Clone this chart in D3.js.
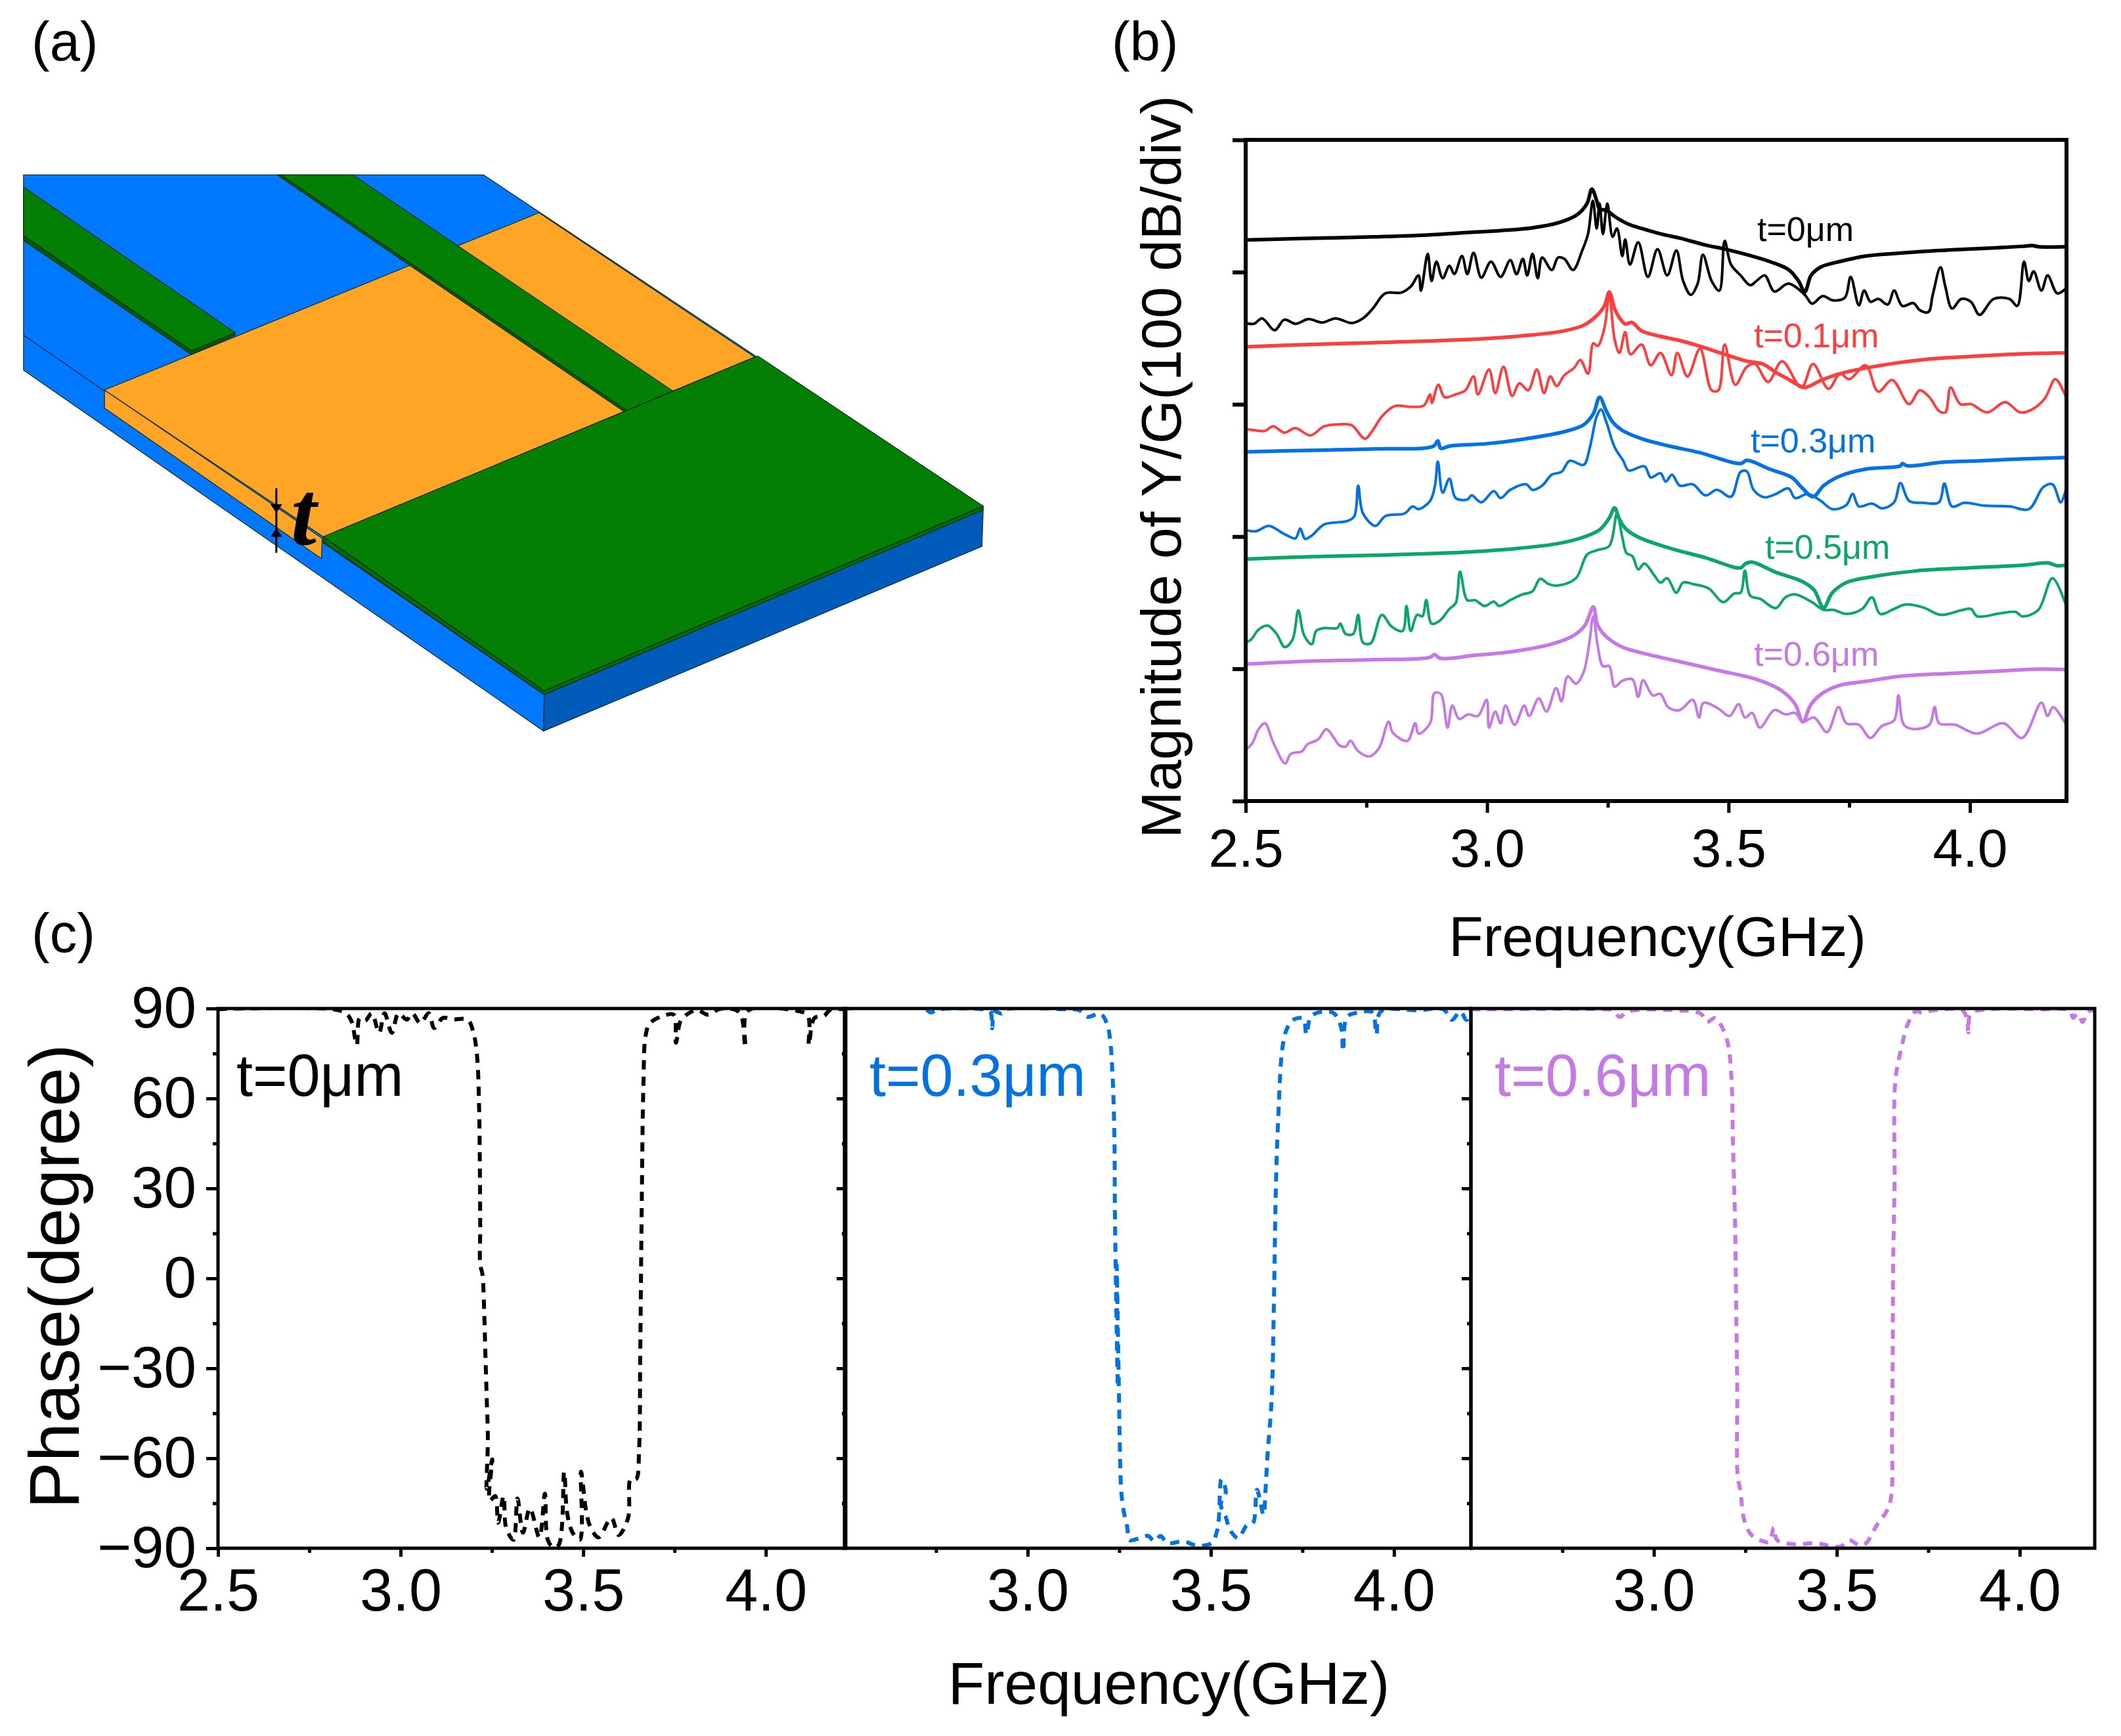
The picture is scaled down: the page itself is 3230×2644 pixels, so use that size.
<!DOCTYPE html>
<html>

<head>
    <meta charset="utf-8">
    <style>
        body {
            margin: 0;
            background: #fff;
        }

        svg {
            display: block;
        }

        text {
            font-family: 'Liberation Sans', Arial, sans-serif;
            fill: #000;
        }
    </style>
</head>

<body>
    <svg width="3230" height="2644"></svg>
</body>

<script src="https://d3js.org/d3.v7.min.js"></script>

<script>
    // --- panel b: [GHz, dB] ---
    const t0Upper = [[2.5,424.3],[2.63,425.5],[2.763,426.6],[2.875,428],[2.962,430],[3.028,431.4],[3.094,433.5],[3.147,437.2],[3.187,443.5],[3.207,451.9],[3.217,462.8],[3.227,454],[3.233,447.7],[3.247,446.7],[3.267,441.4],[3.293,436.2],[3.32,433],[3.359,428.9],[3.399,425.7],[3.452,420.5],[3.492,417.4],[3.538,413.2],[3.585,408],[3.625,401.7],[3.645,393.3],[3.658,385],[3.671,397.5],[3.691,403.8],[3.731,408],[3.784,412.1],[3.85,414.2],[3.936,416.3],[4.023,417.8],[4.109,419.5],[4.129,420.1],[4.142,419.2],[4.2,419.2]];
    const t0Lower = [[2.5,361.5],[2.517,360.9],[2.534,365],[2.56,356],[2.58,364],[2.603,360.9],[2.63,364.4],[2.659,361.9],[2.686,365],[2.72,361.5],[2.743,365],[2.763,372.3],[2.789,383.9],[2.822,384.5],[2.842,389.1],[2.858,397.5],[2.863,385.9],[2.877,413.8],[2.885,393.3],[2.895,407.9],[2.908,395.4],[2.922,404.8],[2.932,398.5],[2.948,412.1],[2.959,398.5],[2.972,414.6],[2.988,395.8],[3.008,407.9],[3.028,396.4],[3.048,409],[3.061,398.5],[3.074,410],[3.083,397.5],[3.094,413.8],[3.105,395.4],[3.114,411],[3.134,401.6],[3.147,411],[3.16,410],[3.178,401.6],[3.197,416.3],[3.209,428.8],[3.219,453.9],[3.227,433],[3.233,451.8],[3.24,428.8],[3.249,451.8],[3.26,426.7],[3.269,433],[3.28,412.1],[3.286,424.7],[3.296,405.8],[3.313,422.6],[3.333,396.4],[3.353,417.3],[3.373,397.5],[3.392,416.3],[3.406,393.3],[3.422,382.8],[3.436,391.2],[3.447,413.1],[3.465,393.3],[3.481,386],[3.492,423.6],[3.505,405.8],[3.525,397.5],[3.545,390.1],[3.558,393.3],[3.575,397.5],[3.595,385.3],[3.624,391.2],[3.658,382.8],[3.673,376.1],[3.695,381.8],[3.717,378.6],[3.741,380.7],[3.753,396.4],[3.77,374.9],[3.781,386],[3.794,377.6],[3.81,379.7],[3.83,375.5],[3.843,386],[3.86,374.4],[3.883,376.5],[3.896,371.3],[3.914,369.8],[3.923,382.8],[3.939,403.7],[3.949,389.1],[3.963,372.4],[3.982,379.7],[4.002,377.6],[4.02,367.7],[4.049,379.7],[4.082,379.7],[4.098,374.4],[4.112,407.9],[4.122,393.3],[4.132,400.6],[4.148,386],[4.161,397.5],[4.181,383.9],[4.2,388]];

    const t01Upper = [[2.5,343.5],[2.63,345.2],[2.763,346.6],[2.895,348.1],[3.001,349.8],[3.094,352.5],[3.16,355.6],[3.2,359.8],[3.227,367.1],[3.243,374.4],[3.253,384.9],[3.264,372.4],[3.273,366.1],[3.286,360.8],[3.3,361.9],[3.32,355.6],[3.359,351.4],[3.399,348.3],[3.439,344.1],[3.492,337.8],[3.538,332.6],[3.571,330.5],[3.598,324.2],[3.624,319],[3.638,315.9],[3.658,312.7],[3.691,318],[3.731,323.2],[3.784,327.4],[3.843,331],[3.916,334.3],[4.009,336.4],[4.115,338.3],[4.2,338.9]];
    const t01Lower = [[2.5,281.4],[2.521,280.3],[2.54,279.9],[2.557,283.4],[2.58,278.6],[2.603,282],[2.634,276.5],[2.663,283.4],[2.696,284.9],[2.72,284.1],[2.747,274],[2.763,280.3],[2.782,290.8],[2.809,298.7],[2.842,298.1],[2.869,299.1],[2.882,307.5],[2.886,301.2],[2.899,314.8],[2.912,305.4],[2.935,307.5],[2.955,310.6],[2.972,321.1],[2.981,307.5],[3.004,326.3],[3.017,308.5],[3.034,328.4],[3.052,306.4],[3.067,315.9],[3.085,310.6],[3.103,326.3],[3.118,308.5],[3.131,321.1],[3.144,313.8],[3.16,322.1],[3.18,327.4],[3.193,333.6],[3.209,323.2],[3.22,346.2],[3.229,344.1],[3.243,357.7],[3.253,382.8],[3.264,349.3],[3.274,338.9],[3.286,354.6],[3.297,337.8],[3.32,345.2],[3.339,329.5],[3.359,338.9],[3.382,322.1],[3.394,338.9],[3.415,321.1],[3.441,342],[3.465,310.6],[3.479,310.6],[3.492,345.2],[3.514,314.8],[3.538,328.4],[3.555,330.5],[3.582,316.9],[3.611,332.6],[3.651,312.7],[3.675,330.5],[3.707,311.7],[3.731,323.2],[3.75,319],[3.784,329.5],[3.81,309.6],[3.839,318.4],[3.874,300.2],[3.896,310.6],[3.916,305.4],[3.936,295],[3.949,293.9],[3.96,312.7],[3.98,300.2],[4.002,300.2],[4.036,293.9],[4.073,301.6],[4.104,293.9],[4.128,296],[4.155,304.4],[4.177,319],[4.2,304.4]];

    const t03Upper = [[2.5,264],[2.63,265.2],[2.763,266.3],[2.889,268.4],[2.898,272.4],[2.904,266.7],[2.922,268.4],[3.001,270.3],[3.081,274],[3.16,279.3],[3.2,284.5],[3.22,292.9],[3.233,305.4],[3.247,294.9],[3.26,286.6],[3.28,280.3],[3.32,274],[3.373,268.8],[3.439,263.6],[3.525,255.2],[3.538,257.7],[3.585,251],[3.631,244.7],[3.651,237.4],[3.675,230.1],[3.697,238.5],[3.731,245.8],[3.784,251],[3.856,253.5],[3.86,255.2],[3.87,253.5],[3.943,256.2],[4.022,257.3],[4.115,258.8],[4.2,259.8]];
    const t03Lower = [[2.5,205],[2.521,204],[2.548,208.1],[2.58,201.9],[2.603,198.7],[2.613,206],[2.623,198.3],[2.637,200.8],[2.663,209.2],[2.71,211.7],[2.725,215.4],[2.733,238.5],[2.743,217.5],[2.769,208.1],[2.789,215.4],[2.829,217.5],[2.846,222.8],[2.858,220.7],[2.882,227],[2.892,238.5],[2.898,256.7],[2.908,233.2],[2.922,243.7],[2.935,229.1],[2.959,228],[2.968,231.1],[2.988,225.9],[3.014,234.3],[3.028,229.1],[3.048,235.3],[3.081,239.5],[3.094,235.3],[3.114,238.5],[3.134,246.8],[3.154,248.9],[3.171,257.3],[3.2,254.2],[3.213,267.7],[3.227,290.8],[3.236,296],[3.247,286.6],[3.264,267.7],[3.282,257.3],[3.293,250],[3.326,253.1],[3.339,244.7],[3.359,247.9],[3.37,241.6],[3.383,246.8],[3.399,238.5],[3.426,239.5],[3.452,231.1],[3.476,235.3],[3.505,230.1],[3.525,248.9],[3.538,249.3],[3.552,235.3],[3.574,229.7],[3.598,232.2],[3.624,236.4],[3.638,229.1],[3.664,232.2],[3.691,227],[3.715,220.7],[3.744,223.8],[3.757,232.2],[3.77,222.8],[3.797,224.9],[3.819,221.3],[3.843,225.9],[3.856,240.5],[3.874,227],[3.903,225.5],[3.936,225.9],[3.947,240.1],[3.963,222.8],[3.989,225.5],[4.029,223.4],[4.082,222.8],[4.122,220.7],[4.152,237.4],[4.171,239.5],[4.188,225.9],[4.2,237.4]];

    const t05Upper = [[2.5,183],[2.63,184.7],[2.763,185.8],[2.948,188],[3.054,190.7],[3.147,194.7],[3.2,199.6],[3.233,205.1],[3.253,214],[3.264,221.7],[3.273,214],[3.286,206.3],[3.313,199.6],[3.373,191.8],[3.452,184],[3.525,176.3],[3.534,179.2],[3.548,180.7],[3.598,173],[3.651,166.3],[3.677,159.7],[3.697,146.4],[3.715,157.5],[3.744,165.2],[3.797,169.6],[3.89,174.1],[3.996,176.3],[4.115,178.5],[4.161,180.1],[4.181,177.9],[4.2,178.5]];
    const t05Lower = [[2.5,119.8],[2.511,122],[2.527,129.7],[2.546,132.6],[2.564,126.4],[2.581,116.4],[2.597,122],[2.609,144.2],[2.621,125.3],[2.637,118.6],[2.646,128.6],[2.663,130.8],[2.69,130.8],[2.696,134.2],[2.707,126.4],[2.723,126.4],[2.733,140.8],[2.743,119.8],[2.759,119.3],[2.782,140.8],[2.802,132],[2.825,128.6],[2.833,147.5],[2.842,128.6],[2.855,140.8],[2.866,139.7],[2.874,151.9],[2.885,134.2],[2.902,136.4],[2.922,145.3],[2.935,149.7],[2.944,173.4],[2.959,151.9],[2.975,151.9],[2.995,147.5],[3.014,150.8],[3.025,147.5],[3.048,151.9],[3.074,156.3],[3.094,158.6],[3.11,168.1],[3.127,164.1],[3.147,163],[3.184,168.5],[3.207,186.3],[3.227,189.6],[3.253,192.9],[3.269,217.3],[3.28,199.6],[3.289,187.4],[3.301,185.2],[3.313,175.2],[3.326,179.6],[3.346,170.8],[3.359,165.2],[3.373,168.5],[3.392,157.5],[3.406,165.2],[3.426,164.1],[3.459,160.8],[3.489,150.4],[3.512,157],[3.525,157.5],[3.534,174.1],[3.545,155.2],[3.565,153],[3.598,145.9],[3.618,154.1],[3.638,156.3],[3.671,150.8],[3.697,144.6],[3.717,144.6],[3.744,141.5],[3.777,145.3],[3.797,154.1],[3.814,141.5],[3.843,145.3],[3.866,148.6],[3.903,146.4],[3.94,140.8],[3.982,144.2],[4.002,145.3],[4.015,139.7],[4.062,141.9],[4.095,143],[4.108,139.7],[4.141,144.2],[4.171,168.5],[4.2,146.8]];

    const t06Upper = [[2.5,103.6],[2.63,105.8],[2.763,106.9],[2.882,108.7],[2.891,110.9],[2.902,108],[2.975,110.2],[3.054,113.1],[3.134,118.7],[3.18,125.3],[3.203,133],[3.22,146.8],[3.229,133],[3.247,124.2],[3.28,116.4],[3.333,110.9],[3.399,105.4],[3.479,98.7],[3.558,92],[3.611,83.2],[3.638,73.2],[3.654,59.9],[3.671,73.2],[3.697,82.1],[3.731,87.6],[3.784,90.5],[3.856,94.3],[3.956,96.5],[4.062,98.3],[4.141,99.8],[4.2,99.4]];
    const t06Lower = [[2.5,38.8],[2.513,43.3],[2.527,54.4],[2.54,58.8],[2.557,44.4],[2.582,28.4],[2.593,35.5],[2.617,37.7],[2.627,42.6],[2.65,46.6],[2.667,54.4],[2.683,47.7],[2.694,42.2],[2.707,41.1],[2.717,45.5],[2.733,37.7],[2.756,33.7],[2.776,39.9],[2.796,59.9],[2.805,51.5],[2.835,45.5],[2.851,58.8],[2.858,51],[2.882,58.8],[2.891,81.6],[2.904,81],[2.918,55.5],[2.928,72.1],[2.942,62.1],[2.961,65.5],[2.981,64.3],[2.999,76.5],[3.004,55.5],[3.017,67.7],[3.028,58.8],[3.038,72.1],[3.057,57.7],[3.077,72.1],[3.087,64.3],[3.107,77.6],[3.123,67.7],[3.143,85.4],[3.154,75.4],[3.167,94.3],[3.184,88.7],[3.2,97.6],[3.211,117.5],[3.22,139.7],[3.229,117.5],[3.24,102],[3.253,102],[3.264,86.5],[3.28,90.9],[3.301,92],[3.313,78.8],[3.323,91.4],[3.343,79.9],[3.359,81],[3.375,71],[3.399,68.8],[3.426,76.5],[3.439,63.2],[3.448,74.3],[3.479,69.9],[3.502,64.3],[3.521,73.2],[3.534,63.2],[3.549,66.6],[3.565,55.5],[3.595,68.8],[3.618,65.5],[3.638,66.6],[3.654,59.9],[3.677,63.2],[3.704,52.1],[3.728,71],[3.744,58.8],[3.77,57.7],[3.794,47.7],[3.817,56.6],[3.843,61],[3.852,79.9],[3.863,57.7],[3.883,54.4],[3.916,57.7],[3.927,71],[3.936,58.8],[3.969,57.7],[4.015,51],[4.069,58.8],[4.108,47.7],[4.148,74.3],[4.161,64.3],[4.172,71],[4.2,57.2]];

    // --- panel c: [GHz, degree] ---
    const phaseT0 = [[2.5,89.8],[2.812,89.8],[2.85,88.4],[2.865,85.9],[2.88,77.8],[2.888,86.8],[2.903,85.9],[2.921,88.4],[2.941,81.9],[2.956,88.4],[2.976,81.9],[2.994,88.4],[3.017,86.3],[3.032,88.4],[3.054,85.1],[3.077,88.4],[3.092,83.5],[3.115,86.8],[3.145,86.4],[3.183,86.3],[3.198,82.7],[3.209,74.6],[3.215,56.7],[3.217,37.2],[3.218,16],[3.218,4.6],[3.224,1.4],[3.229,-11.6],[3.232,-24.6],[3.236,-40.9],[3.239,-53.9],[3.236,-70.2],[3.251,-60.4],[3.244,-74.2],[3.259,-72.6],[3.267,-81.5],[3.282,-72.6],[3.289,-83.2],[3.309,-87.2],[3.32,-73.4],[3.335,-84.8],[3.354,-76.7],[3.38,-86.4],[3.395,-71.8],[3.403,-87.2],[3.418,-89.7],[3.433,-88.9],[3.448,-64.5],[3.456,-78.3],[3.471,-84.8],[3.491,-87.2],[3.494,-64.5],[3.509,-78.3],[3.521,-83.2],[3.542,-86.4],[3.577,-79.9],[3.597,-85.6],[3.623,-79.9],[3.63,-66.9],[3.645,-66.9],[3.653,-57.1],[3.656,-27.9],[3.66,21],[3.665,64.8],[3.671,81],[3.683,85.1],[3.721,87.6],[3.748,87.9],[3.754,78.6],[3.767,85.9],[3.789,88.4],[3.812,89.5],[3.842,87.9],[3.873,89.8],[3.918,89.5],[3.933,87.6],[3.944,77],[3.951,89.2],[4.085,89.2],[4.115,87.6],[4.118,77.8],[4.133,86.8],[4.16,87.6],[4.176,89.5],[4.219,89.8]];
    const phaseT03 = [[2.501,90],[2.718,90],[2.735,88.7],[2.758,89.7],[2.878,89.7],[2.898,89],[2.903,83.4],[2.91,89],[2.929,88.3],[2.941,89.7],[3.106,89.7],[3.141,89.4],[3.163,87.2],[3.198,88.3],[3.217,84.8],[3.226,78.5],[3.232,67.3],[3.237,46.3],[3.238,25.4],[3.24,5.8],[3.243,-16.6],[3.246,-36.2],[3.243,4.4],[3.249,-36.2],[3.251,-51.6],[3.255,-69.8],[3.261,-76.8],[3.272,-83.1],[3.278,-87.3],[3.306,-86.6],[3.329,-85.9],[3.346,-87.7],[3.363,-85.9],[3.381,-88.3],[3.426,-87.7],[3.461,-89.1],[3.501,-88.3],[3.518,-83.8],[3.529,-67],[3.541,-71.2],[3.527,-75.4],[3.541,-79.6],[3.552,-83.8],[3.575,-86.6],[3.598,-82.4],[3.615,-81.7],[3.626,-70.5],[3.644,-78.9],[3.649,-71.2],[3.655,-58.6],[3.666,-40.4],[3.672,-9.6],[3.678,32.3],[3.684,53.3],[3.695,76.4],[3.706,82.7],[3.724,86.2],[3.752,86.6],[3.761,81.3],[3.775,87.6],[3.832,88.7],[3.855,84.1],[3.861,75.7],[3.872,87.2],[3.906,88.7],[3.941,88.7],[3.952,81.3],[3.964,89],[4.066,89.4],[4.135,89.7],[4.158,86.2],[4.181,89],[4.198,86.2],[4.21,89]];
    const phaseT06 = [[2.5,89.7],[2.871,89.7],[2.888,89.4],[2.907,87.2],[2.928,89],[3.065,89.4],[3.128,88.3],[3.145,85.5],[3.168,86.9],[3.185,84.1],[3.202,78.5],[3.212,67.3],[3.216,46.3],[3.222,18.4],[3.225,-9.6],[3.228,-37.6],[3.229,-65.6],[3.237,-71.2],[3.245,-79.6],[3.26,-84.5],[3.277,-86.6],[3.3,-87.7],[3.315,-88],[3.328,-83.1],[3.337,-87.3],[3.386,-88.7],[3.443,-88.3],[3.477,-89.1],[3.511,-89.4],[3.534,-87.3],[3.563,-89.1],[3.58,-88.3],[3.609,-82.4],[3.637,-77.5],[3.649,-72.6],[3.651,-51.6],[3.653,-23.6],[3.654,4.4],[3.658,32.3],[3.66,65.9],[3.677,77.1],[3.694,84.8],[3.715,89],[3.734,88.6],[3.763,89.4],[3.843,89.4],[3.855,86.9],[3.86,82],[3.866,88.3],[3.912,89.7],[4.06,89.7],[4.135,89.4],[4.146,86.9],[4.158,88.3],[4.172,85.5],[4.186,89],[4.205,89.4]];

    // tick values and labels
    const freqMajor = [2.5, 3.0, 3.5, 4.0];
    const freqMinor = [2.75, 3.25, 3.75];
    const magTicks = [0, 100, 200, 300, 400, 500];
    const phaseMajor = [-90, -60, -30, 0, 30, 60, 90];
    const phaseMinor = [-75, -45, -15, 15, 45, 75];

    const black = "#000000";
    const red = "#ff3f3f";
    const blue = "#0072e6";
    const green = "#0aa766";
    const purple = "#c679e6";

    let svg = d3.select("svg");

    let panelLabel = function (txt, x, y) {
        svg.append("text").attr("x", x).attr("y", y).style("font-size", "83px").text(txt);
    };
    panelLabel("(a)", 48, 92);
    panelLabel("(b)", 1702 - 9, 92);
    panelLabel("(c)", 48, 1450);

    //////////// panel a, the device drawing. Outlines read in a 1568 unit picture box
    let px = d3.scaleLinear().domain([0, 1568]).range([0, 1560]);
    let py = d3.scaleLinear().domain([0, 1568]).range([0, 1160]);
    let outline = d3.line().x(d => px(d[0])).y(d => py(d[1]));

    let shapes = [
        { fill: "#0078ff", pts: [[36, 360], [740, 360], [1505, 1045], [833, 1430], [832, 1505], [36, 762]] },
        { fill: "#005bbb", pts: [[833, 1430], [1505, 1048], [1503, 1125], [832, 1505]] },
        { fill: "#ffa526", pts: [[160, 803], [160, 840], [492, 1150], [493, 1108]] },
        { fill: "#ffa526", pts: [[160, 803], [825, 438], [1155, 735], [495, 1105]] },
        { fill: "#035a03", pts: [[36, 483], [293, 720], [360, 683], [360, 690], [293, 730], [36, 495]] },
        { fill: "#038003", pts: [[36, 385], [360, 685], [293, 722], [36, 485]] },
        { fill: "#035a03", pts: [[424, 360], [958, 850], [962, 846], [430, 360]] },
        { fill: "#038003", pts: [[430, 360], [540, 360], [1030, 805], [960, 845]] },
        { fill: "#046c04", pts: [[495, 1105], [833, 1422], [1505, 1042], [1505, 1050], [833, 1430], [495, 1118]] },
        { fill: "#038003", pts: [[495, 1105], [1160, 733], [1505, 1042], [833, 1422]] }
    ];

    svg.selectAll(".shape")
        .data(shapes)
        .enter().append("path")
        .attr("class", "shape")
        .attr("d", d => outline(d.pts) + "Z")
        .style("fill", d => d.fill)
        .style("stroke", "#1a2a1a")
        .style("stroke-width", 1.2)
        .style("stroke-linejoin", "round");

    // edge of the substrate top, seen beside the orange block
    svg.append("path")
        .attr("d", outline([[36, 690], [160, 805]]))
        .style("fill", "none").style("stroke", "#123").style("stroke-width", 1.2);
    svg.append("path")
        .attr("d", outline([[493, 1114], [833, 1430]]))
        .style("fill", "none").style("stroke", "#123").style("stroke-width", 1.2);

    // the t marker
    svg.append("path")
        .attr("d", outline([[423, 1005], [423, 1138]]))
        .style("stroke", "#000").style("stroke-width", 3).style("fill", "none");
    svg.append("path")
        .attr("d", outline([[414, 1038], [432, 1038], [423, 1056]]) + "Z")
        .style("fill", "#000");
    svg.append("path")
        .attr("d", outline([[414, 1105], [432, 1105], [423, 1087]]) + "Z")
        .style("fill", "#000");
    svg.append("text")
        .attr("x", 443).attr("y", 829)
        .style("font-family", "'Liberation Serif', serif")
        .style("font-weight", "bold").style("font-style", "italic")
        .style("font-size", "140px")
        .text("t");

    //////////// panel b
    let bx = d3.scaleLinear().domain([2.5, 4.2]).range([1897, 3147]);
    let by = d3.scaleLinear().domain([0, 500]).range([1220, 213]);

    // a centripetal spline keeps the peaks rounded like the measured traces
    let bLine = d3.line().curve(d3.curveCatmullRom.alpha(0.5)).x(d => bx(d[0])).y(d => by(d[1]));

    let bSeries = [
        { pts: t0Upper, color: black, w: 5.5 }, { pts: t0Lower, color: black, w: 4 },
        { pts: t01Upper, color: red, w: 5.5 }, { pts: t01Lower, color: red, w: 4 },
        { pts: t03Upper, color: blue, w: 5.5 }, { pts: t03Lower, color: blue, w: 4 },
        { pts: t05Upper, color: green, w: 5.5 }, { pts: t05Lower, color: green, w: 4 },
        { pts: t06Upper, color: purple, w: 5.5 }, { pts: t06Lower, color: purple, w: 4 }
    ];

    svg.selectAll(".spectrum")
        .data(bSeries)
        .enter().append("path")
        .attr("class", "spectrum")
        .attr("d", d => bLine(d.pts))
        .style("fill", "none")
        .style("stroke", d => d.color)
        .style("stroke-width", d => d.w)
        .style("stroke-linejoin", "round");

    let styleAxis = function (g, width) {
        g.select(".domain").remove();
        g.selectAll("line").style("stroke", "#000").style("stroke-width", width);
    };

    let bFrame = svg.append("rect")
        .attr("x", bx.range()[0]).attr("y", by.range()[1])
        .attr("width", bx.range()[1] - bx.range()[0])
        .attr("height", by.range()[0] - by.range()[1])
        .style("fill", "none").style("stroke", "#000").style("stroke-width", 6);

    let bxMajor = svg.append("g")
        .attr("transform", `translate(0,${by(0)})`)
        .call(d3.axisBottom(bx).tickValues(freqMajor).tickFormat(d3.format(".1f")).tickSize(18).tickPadding(24))
        .call(styleAxis, 5);
    bxMajor.selectAll("text").style("font-size", "82px").style("font-family", "'Liberation Sans'");

    svg.append("g")
        .attr("transform", `translate(0,${by(0)})`)
        .call(d3.axisBottom(bx).tickValues(freqMinor).tickFormat("").tickSize(10))
        .call(styleAxis, 5);

    svg.append("g")
        .attr("transform", `translate(${bx(2.5)},0)`)
        .call(d3.axisLeft(by).tickValues(magTicks).tickFormat("").tickSize(20))
        .call(styleAxis, 6);

    let bNotes = [
        { txt: "t=0μm", color: black, f: 2.5 + (2676 - 1897) / 735.3, y: 367 },
        { txt: "t=0.1μm", color: red, f: 2.5 + (2671 - 1897) / 735.3, y: 529 },
        { txt: "t=0.3μm", color: blue, f: 2.5 + (2666 - 1897) / 735.3, y: 689 },
        { txt: "t=0.5μm", color: green, f: 2.5 + (2688 - 1897) / 735.3, y: 851 },
        { txt: "t=0.6μm", color: purple, f: 2.5 + (2671 - 1897) / 735.3, y: 1014 }
    ];

    svg.selectAll(".note")
        .data(bNotes)
        .enter().append("text")
        .attr("class", "note")
        .attr("x", d => bx(d.f))
        .attr("y", d => d.y)
        .style("font-size", "52px")
        .style("fill", d => d.color)
        .text(d => d.txt);

    svg.append("text")
        .attr("x", 2524).attr("y", 1456)
        .style("text-anchor", "middle").style("font-size", "86px")
        .text("Frequency(GHz)");

    svg.append("text")
        .attr("transform", "translate(1798,711) rotate(-90)")
        .style("text-anchor", "middle").style("font-size", "86px")
        .text("Magnitude of Y/G(100 dB/div)");

    //////////// panel c
    let cy = d3.scaleLinear().domain([-90, 90]).range([2358, 1536]);

    let cPanels = [
        { pts: phaseT0, color: black, label: "t=0μm", labelX: 360, left: 332, right: 1288, end: 4.219, ticks: freqMajor },
        { pts: phaseT03, color: blue, label: "t=0.3μm", labelX: 1324, left: 1286, right: 2240, end: 4.21, ticks: freqMajor.slice(1) },
        { pts: phaseT06, color: purple, label: "t=0.6μm", labelX: 2276, left: 2240, right: 3190, end: 4.205, ticks: freqMajor.slice(1) }
    ];

    cPanels.forEach(function (p, i) {
        let x = d3.scaleLinear().domain([2.5, p.end]).range([p.left, p.right]);
        let line = d3.line().curve(d3.curveCatmullRom.alpha(0.5)).x(d => x(d[0])).y(d => cy(d[1]));

        // the spline can overshoot a little past +90, keep it inside the frame
        svg.append("clipPath")
            .attr("id", "clip" + i)
            .append("rect")
            .attr("x", p.left).attr("y", cy(90))
            .attr("width", p.right - p.left)
            .attr("height", cy(-90) - cy(90));

        svg.append("path")
            .attr("d", line(p.pts))
            .attr("clip-path", `url(#clip${i})`)
            .style("fill", "none")
            .style("stroke", p.color)
            .style("stroke-width", 6)
            .style("stroke-dasharray", "14 11")
            .style("stroke-linejoin", "round");

        svg.append("rect")
            .attr("x", p.left).attr("y", cy(90))
            .attr("width", p.right - p.left)
            .attr("height", cy(-90) - cy(90))
            .style("fill", "none").style("stroke", "#000").style("stroke-width", 5);

        let major = svg.append("g")
            .attr("transform", `translate(0,${cy(-90)})`)
            .call(d3.axisBottom(x).tickValues(p.ticks).tickFormat(d3.format(".1f")).tickSize(13).tickPadding(18))
            .call(styleAxis, 5);
        major.selectAll("text").style("font-size", "90px").style("font-family", "'Liberation Sans'");

        svg.append("g")
            .attr("transform", `translate(0,${cy(-90)})`)
            .call(d3.axisBottom(x).tickValues(freqMinor).tickFormat("").tickSize(7))
            .call(styleAxis, 5);

        if (i == 0) {
            let yAxis = svg.append("g")
                .attr("transform", `translate(${p.left},0)`)
                .call(d3.axisLeft(cy).tickValues(phaseMajor).tickFormat(d => d3.format("d")(d).replace("-", "−")).tickSize(18).tickPadding(15))
                .call(styleAxis, 5);
            yAxis.selectAll("text").style("font-size", "89px").style("font-family", "'Liberation Sans'");

            svg.append("g")
                .attr("transform", `translate(${p.left},0)`)
                .call(d3.axisLeft(cy).tickValues(phaseMinor).tickFormat("").tickSize(8))
                .call(styleAxis, 5);
        }

        // inner ticks on the divider
        if (i < 2) {
            svg.append("g")
                .attr("transform", `translate(${p.right},0)`)
                .call(d3.axisLeft(cy).tickValues(phaseMajor.slice(1, -1)).tickFormat("").tickSize(14))
                .call(styleAxis, 5);
            svg.append("g")
                .attr("transform", `translate(${p.right},0)`)
                .call(d3.axisLeft(cy).tickValues(phaseMinor).tickFormat("").tickSize(6))
                .call(styleAxis, 5);
        }

        svg.append("text")
            .attr("x", p.labelX).attr("y", 1669)
            .style("font-size", "90px")
            .style("fill", p.color)
            .text(p.label);
    });

    svg.append("text")
        .attr("x", 1780).attr("y", 2595)
        .style("text-anchor", "middle").style("font-size", "91px")
        .text("Frequency(GHz)");

    svg.append("text")
        .attr("transform", "translate(120,1944) rotate(-90)")
        .style("text-anchor", "middle").style("font-size", "107px")
        .text("Phase(degree)");
</script>

</html>
